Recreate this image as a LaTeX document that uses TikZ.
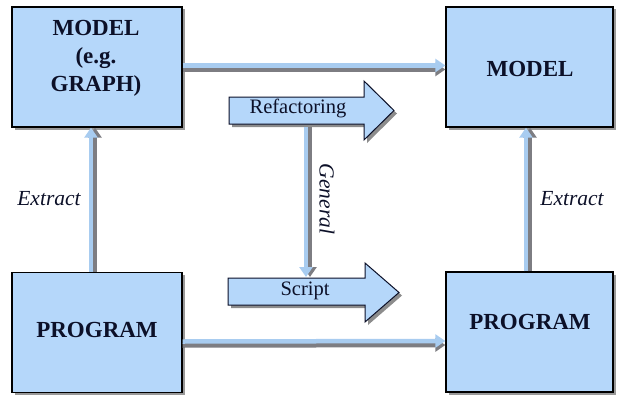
\documentclass[tikz,border=0pt]{standalone}
\usepackage{fontspec}
\setmainfont{Liberation Serif}
\usetikzlibrary{shadows,arrows.meta}
\definecolor{boxblue}{RGB}{181,215,250}
\definecolor{lineblue}{RGB}{168,204,240}
\definecolor{shade}{RGB}{125,125,130}
\definecolor{ink}{RGB}{12,16,40}
\begin{document}
\begin{tikzpicture}[x=1pt,y=-1pt,
  box/.style={draw=black, line width=1.3pt, fill=boxblue, minimum width=#1,
    minimum height=120pt, inner sep=0pt,
    drop shadow={shadow xshift=2.5pt, shadow yshift=-2.5pt, opacity=0.4, fill=black}},
  btext/.style={font=\bfseries\fontsize{23}{28}\selectfont, text=ink, align=center},
  lbl/.style={font=\fontsize{20.5}{24}\selectfont, text=ink, inner sep=0pt},
  ital/.style={font=\itshape\fontsize{21.5}{24}\selectfont, text=ink, inner sep=0pt},
  conn/.style={line width=4.5pt, draw=lineblue, -{Triangle[length=10pt,width=13pt]}},
  sconn/.style={conn, draw=shade},
  blockarrow/.style={draw=ink, line width=1pt, fill=boxblue,
    drop shadow={shadow xshift=3pt, shadow yshift=-3pt, opacity=0.45, fill=black}}]
\useasboundingbox (0,0) rectangle (618,396);
\fill[white] (0,0) rectangle (618,396);

% boxes
\node[box=170pt] (tl) at (97,67) {};
\node[box=167pt] (tr) at (529.5,67) {};
\node[box=170pt] (bl) at (97,332.5) {};
\node[box=167pt] (br) at (529.5,332) {};

\node[btext] (tltext) at (96,58) {MODEL\\(e.g.\\GRAPH)};
\node[btext] (trtext) at (530,69) {MODEL};
\node[btext] (bltext) at (97,330) {PROGRAM};
\node[btext] (brtext) at (530,322) {PROGRAM};

% horizontal connectors
\draw[sconn, transform canvas={yshift=-4pt}] ([yshift=1.5pt]tl.east) -- ([yshift=1.5pt]tr.west);
\draw[conn] ([yshift=1.5pt]tl.east) -- ([yshift=1.5pt]tr.west);
\draw[sconn, transform canvas={yshift=-4pt}] ([yshift=-9pt]bl.east) -- ([yshift=-9pt]br.west);
\draw[conn] ([yshift=-9pt]bl.east) -- ([yshift=-9pt]br.west);

% vertical connectors (Extract)
\draw[sconn, transform canvas={xshift=4pt}] ([xshift=-6pt]bl.north) -- ([xshift=-6pt]tl.south);
\draw[conn] ([xshift=-6pt]bl.north) -- ([xshift=-6pt]tl.south);
\draw[sconn, transform canvas={xshift=4pt}] ([xshift=-3.5pt]br.north) -- ([xshift=-3.5pt]tr.south);
\draw[conn] ([xshift=-3.5pt]br.north) -- ([xshift=-3.5pt]tr.south);

\node[ital] (ex1) at (49,199) {Extract};
\node[ital] (ex2) at (572,199) {Extract};

% block arrows
\path[blockarrow] (229,97) -- (364,97) -- (364,81) -- (394,110.5) -- (364,140)
  -- (364,124) -- (229,124) -- cycle;
\node[lbl] (refac) at (298,108) {Refactoring};
\path[blockarrow] (228,278) -- (365,278) -- (365,263) -- (399,292.5) -- (365,322)
  -- (365,305) -- (228,305) -- cycle;
\node[lbl] (script) at (305,291) {Script};

% General arrow
\coordinate (g1) at (306,127);
\coordinate (g2) at (306,277);
\draw[sconn, transform canvas={xshift=4pt}] (g1) -- (g2);
\draw[conn] (g1) -- (g2);
\node[ital, rotate=-90] (gen) at (327,199) {General};
\end{tikzpicture}
\end{document}
